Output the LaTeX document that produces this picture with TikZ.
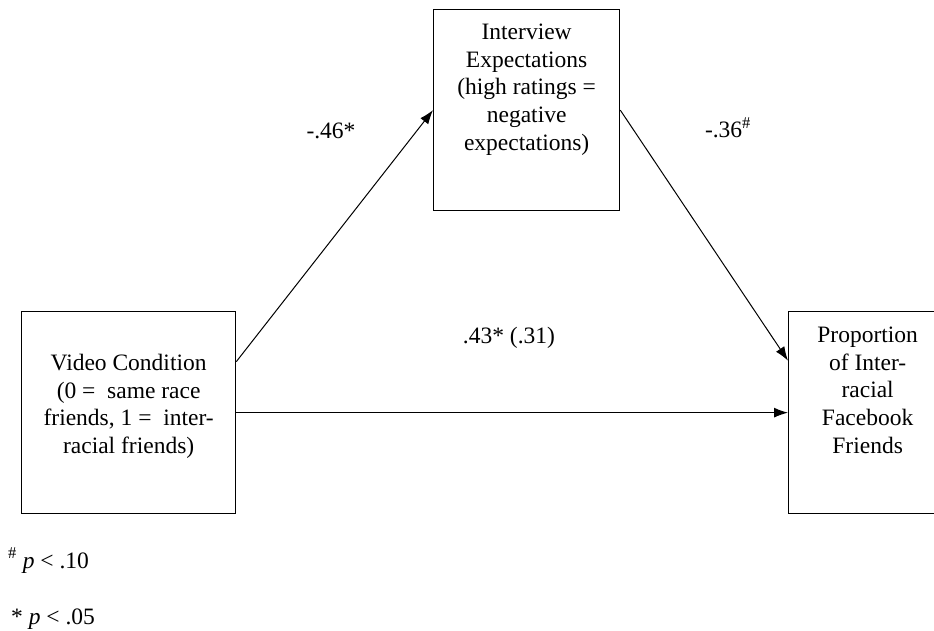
\documentclass[tikz,border=0pt]{standalone}
\usepackage{fontspec}
\setmainfont{Liberation Serif}
\usetikzlibrary{arrows.meta,calc}
\begin{document}
\begin{tikzpicture}[x=1pt,y=-1pt,
  box/.style={draw, line width=1.3pt, inner sep=0pt, anchor=north west},
  conn/.style={line width=1pt, -{Latex[length=14pt,width=10pt]}},
  lbl/.style={inner sep=0pt, anchor=base},
  note/.style={inner sep=0pt, anchor=base west},
  font=\fontsize{23.5}{27.6}\selectfont]
\useasboundingbox (0,0) rectangle (934,631);
\clip (0,0) rectangle (934,631);
\newcommand{\boxtext}[4]{\parbox[c][#2pt][t]{#1pt}{\centering\rule{0pt}{#3pt}#4}}
\node[box] (iv) at (433,9) {\boxtext{186}{201}{30}{Interview\\Expectations\\(high ratings =\\negative\\expectations)}};
\node[box] (vc) at (21,311) {\boxtext{214}{202}{59}{Video Condition\\(0 =\ \ same race\\friends, 1 =\ \ inter-\\racial friends)}};
\node[box] (pd) at (788,311) {\boxtext{158}{202}{31}{Proportion\\of Inter-\\racial\\Facebook\\Friends}};
\draw[conn] ($(vc.east)+(0,-51)$) -- (iv.west);
\draw[conn] (iv.east) -- ($(pd.west)+(0,-52)$);
\draw[conn] (vc.east) -- (vc.east -| pd.west);
\node[lbl] (a) at (331,139) {-.46*};
\node[lbl] (b) at (728,138) {-.36\textsuperscript{\#}};
\node[lbl] (c) at (509,343) {.43* (.31)};
\node[note] (n1) at (8,568) {\textsuperscript{\#} \textit{p} < .10};
\node[note] (n2) at (11,624) {* \textit{p} < .05};
\end{tikzpicture}
\end{document}
